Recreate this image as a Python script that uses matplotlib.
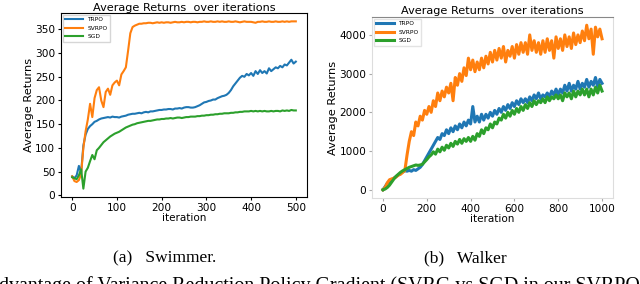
import numpy as np
import matplotlib.pyplot as plt

# Swimmer (every 5 iterations)
sw_iter = list(range(0, 501, 5))
sw_svrpo = [40, 30, 28, 32, 45, 100, 135, 160, 193, 165,
            205, 222, 228, 200, 186, 218, 225, 212, 232, 238,
            242, 232, 255, 262, 270, 305, 342, 355, 358, 360,
            362, 362, 363, 363, 364, 364, 363, 364, 365, 364,
            365, 364, 365, 365, 364, 365, 366, 365, 365, 366,
            365, 366, 366, 365, 366, 366, 365, 366, 366, 367,
            366, 366, 367, 366, 366, 367, 366, 367, 366, 366,
            367, 366, 366, 367, 366, 365, 366, 367, 366, 366,
            366, 365, 364, 366, 366, 367, 366, 366, 367, 366,
            366, 367, 366, 366, 367, 366, 367, 366, 367, 367,
            367]
sw_trpo = [40, 36, 42, 62, 48, 105, 128, 140, 146, 150,
           155, 157, 160, 162, 163, 164, 165, 164, 166, 165,
           165, 164, 166, 167, 168, 170, 171, 172, 172, 173,
           174, 173, 175, 176, 175, 177, 177, 178, 179, 180,
           180, 181, 181, 182, 182, 181, 183, 183, 184, 183,
           185, 186, 186, 185, 185, 186, 188, 190, 193, 196,
           197, 199, 200, 202, 202, 205, 207, 209, 210, 212,
           216, 222, 230, 236, 242, 248, 252, 250, 256, 253,
           258, 252, 262, 256, 264, 258, 262, 257, 268, 262,
           266, 270, 268, 273, 270, 276, 274, 280, 286, 278,
           282]
sw_sgd = [38, 36, 34, 42, 55, 14, 50, 58, 72, 85,
          76, 95, 100, 106, 112, 116, 120, 124, 127, 130,
          132, 134, 137, 140, 143, 145, 147, 149, 150, 152,
          153, 154, 155, 156, 157, 157, 158, 159, 160, 160,
          161, 161, 162, 162, 163, 162, 163, 164, 164, 163,
          164, 165, 165, 166, 166, 166, 167, 167, 168, 168,
          169, 169, 170, 170, 171, 171, 172, 172, 173, 173,
          173, 174, 174, 175, 175, 176, 176, 177, 177, 177,
          178, 177, 178, 177, 178, 177, 178, 177, 177, 178,
          177, 178, 178, 177, 179, 178, 179, 178, 180, 179,
          179]

# Walker (every 10 iterations)
wk_iter = list(range(0, 1001, 10))
wk_svrpo = [0, 60, 180, 260, 280, 300, 330, 380, 400, 450,
            500, 900, 1250, 1500, 1400, 1750, 1650, 1900, 1800, 2050,
            1950, 2150, 2000, 2300, 2150, 2500, 2300, 2550, 2400, 2650,
            2500, 2750, 2300, 2900, 2700, 3000, 2800, 3150, 2950, 3400,
            3100, 3350, 3050, 3300, 3100, 3400, 3150, 3450, 3250, 3550,
            3300, 3600, 3350, 3650, 3400, 3700, 3300, 3600, 3450, 3700,
            3400, 3750, 3500, 3800, 3550, 3800, 3500, 4000, 3600, 3850,
            3550, 3800, 3500, 3850, 3550, 3900, 3600, 3850, 3400, 3950,
            3650, 3900, 3600, 4000, 3700, 3950, 3650, 4050, 3750, 4000,
            3800, 4100, 3850, 4250, 3900, 4150, 3500, 4200, 3950, 4150,
            3900]
wk_trpo = [0, 80, 170, 220, 260, 300, 340, 380, 420, 460,
           490, 480, 500, 480, 520, 500, 540, 580, 650, 750,
           850, 950, 1050, 1150, 1250, 1350, 1300, 1450, 1400, 1550,
           1450, 1600, 1500, 1650, 1550, 1700, 1600, 1750, 1650, 1800,
           1700, 2150, 1750, 1900, 1750, 1950, 1800, 1950, 1850, 2000,
           1900, 2050, 1950, 2100, 2000, 2150, 2050, 2200, 2100, 2250,
           2150, 2300, 2200, 2350, 2250, 2350, 2250, 2400, 2300, 2450,
           2350, 2500, 2350, 2450, 2400, 2500, 2400, 2550, 2450, 2600,
           2450, 2600, 2500, 2700, 2550, 2750, 2550, 2700, 2600, 2800,
           2600, 2750, 2650, 2850, 2650, 2800, 2700, 2900, 2650, 2850,
           2750]
wk_sgd = [0, 20, 60, 120, 200, 280, 350, 400, 450, 490,
          520, 550, 580, 600, 620, 640, 630, 640, 660, 720,
          780, 850, 900, 980, 920, 1050, 980, 1100, 1020, 1150,
          1080, 1200, 1120, 1250, 1180, 1300, 1200, 1320, 1250, 1350,
          1250, 1380, 1280, 1450, 1380, 1550, 1450, 1600, 1550, 1700,
          1600, 1750, 1700, 1850, 1800, 1950, 1850, 2000, 1900, 2050,
          1950, 2100, 2000, 2150, 2050, 2200, 2100, 2250, 2150, 2300,
          2200, 2300, 2250, 2350, 2250, 2400, 2300, 2400, 2350, 2450,
          2350, 2450, 2300, 2500, 2400, 2500, 2350, 2550, 2400, 2550,
          2450, 2600, 2450, 2600, 2400, 2600, 2450, 2650, 2500, 2700,
          2550]

labels = ["TRPO", "SVRPO", "SGD"]
colors = ["#1f77b4", "#ff7f0e", "#2ca02c"]

fig = plt.figure(figsize=(6.4, 2.84), dpi=100)

# left panel: Swimmer
ax1 = fig.add_axes([61/640, 1-197/284, 246/640, 184/284])
for y, lab, c in zip([sw_trpo, sw_svrpo, sw_sgd], labels, colors):
    ax1.plot(sw_iter, y, color=c, lw=1.5, label=lab)
ax1.set_xticks(range(0, 501, 100))
ax1.set_yticks(range(0, 351, 50))
ax1.tick_params(labelsize=7.6, length=2.5, pad=1.5)
ax1.set_xlabel("iteration", fontsize=7.5, labelpad=0)
ax1.set_ylabel("Average Returns", fontsize=8.2, labelpad=1)
ax1.set_title("Average Returns  over iterations", fontsize=8.1, pad=1)
ax1.legend(loc="upper left", fontsize=4.2, handlelength=3, frameon=True,
           borderaxespad=0.3, labelspacing=0.6, fancybox=False, edgecolor="#cccccc")

# right panel: Walker
ax2 = fig.add_axes([372/640, 1-198/284, 241/640, 181/284])
for y, lab, c in zip([wk_trpo, wk_svrpo, wk_sgd], labels, colors):
    ax2.plot(wk_iter, y, color=c, lw=2.2, label=lab)
ax2.set_xticks(range(0, 1001, 200))
ax2.set_yticks(range(0, 4001, 1000))
ax2.tick_params(labelsize=7.6, length=2.5, pad=1.5, color="#aaaaaa")
for s in ["left", "right", "bottom"]:
    ax2.spines[s].set_color("#dddddd")
ax2.spines["top"].set_color("#888888")
ax2.set_xlabel("iteration", fontsize=7.5, labelpad=0)
ax2.set_ylabel("Average Returns", fontsize=8.2, labelpad=1)
ax2.set_title("Average Returns  over iterations", fontsize=8.1, pad=2.5)
ax2.legend(loc="upper left", fontsize=4.2, handlelength=3, frameon=True,
           borderaxespad=0.3, labelspacing=0.6, fancybox=False, edgecolor="#dddddd")

serif = "Liberation Serif"
fig.text(165/640, 1-258/284, "(a)   Swimmer.", family=serif, fontsize=12.5,
         ha="center", va="center")
fig.text(465/640, 1-258/284, "(b)   Walker", family=serif, fontsize=12.5,
         ha="center", va="center")
fig.text(-0.002, 1-276/284,
         "dvantage of Variance Reduction Policy Gradient (SVRG vs SGD in our SVRPO",
         family=serif, fontsize=14.4, ha="left", va="top")

fig.savefig("out.png", dpi=100)
